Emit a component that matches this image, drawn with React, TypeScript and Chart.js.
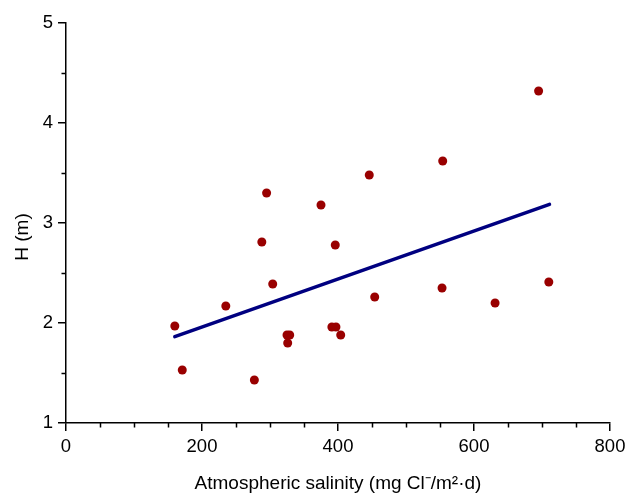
import React, { useEffect, useRef } from "react";
import { Chart, registerables } from "chart.js";

Chart.register(...registerables);

const salinity = [160, 171, 235, 277, 288, 295, 304, 325, 329, 326, 375, 391, 397, 396, 404, 446, 454, 554, 553, 631, 695, 710];
const heights = [1.97, 1.53, 2.17, 1.43, 2.81, 3.3, 2.39, 1.88, 1.88, 1.8, 3.18, 1.96, 1.96, 2.78, 1.88, 3.48, 2.26, 3.62, 2.35, 2.2, 4.32, 2.41];
const fitX = [160, 711];
const fitY = [1.863, 3.187];
const xMajorTicks = [0, 200, 400, 600, 800];
const yMajorTicks = [1, 2, 3, 4, 5];
const xMinorTicks = [50, 100, 150, 250, 300, 350, 450, 500, 550, 650, 700, 750];
const yMinorTicks = [1.5, 2.5, 3.5, 4.5];
const xTitle = "Atmospheric salinity (mg Cl\u207B/m\u00B2\u00B7d)";
const yTitle = "H (m)";

const FONT = "'Liberation Sans', Arial, sans-serif";

export default function App() {
  const ref = useRef<HTMLCanvasElement>(null);
  useEffect(() => {
    if (!ref.current) return;
    const extras = {
      id: "extras",
      afterDraw(chart: any) {
        const ctx = chart.ctx;
        const xs = chart.scales.x;
        const ys = chart.scales.y;
        const area = chart.chartArea;
        ctx.save();
        ctx.strokeStyle = "#000";
        ctx.lineWidth = 1.5;
        ctx.beginPath();
        for (const v of xMinorTicks) {
          const px = Math.round(xs.getPixelForValue(v)) + 0.5;
          ctx.moveTo(px, area.bottom);
          ctx.lineTo(px, area.bottom + 4.5);
        }
        for (const v of yMinorTicks) {
          const py = Math.round(ys.getPixelForValue(v)) + 0.5;
          ctx.moveTo(area.left, py);
          ctx.lineTo(area.left - 4.5, py);
        }
        ctx.stroke();
        ctx.fillStyle = "#000";
        ctx.font = `19px ${FONT}`;
        ctx.textAlign = "center";
        ctx.textBaseline = "alphabetic";
        ctx.fillText(xTitle, (area.left + area.right) / 2, 489);
        ctx.translate(28, 237);
        ctx.rotate(-Math.PI / 2);
        ctx.fillText(yTitle, 0, 0);
        ctx.restore();
      },
    };
    const chart = new Chart(ref.current, {
      type: "scatter",
      data: {
        datasets: [
          {
            type: "line",
            data: fitX.map((x, i) => ({ x, y: fitY[i] })),
            borderColor: "#000080",
            borderWidth: 3.5,
            pointRadius: 0,
            borderCapStyle: "round",
            order: 2,
          },
          {
            data: salinity.map((x, i) => ({ x, y: heights[i] })),
            backgroundColor: "#990000",
            borderColor: "#990000",
            borderWidth: 0,
            pointRadius: 4.5,
            order: 1,
          },
        ],
      },
      plugins: [extras],
      options: {
        responsive: false,
        animation: false,
        events: [],
        layout: { padding: { top: 23, right: 17, left: 0, bottom: 0 } },
        plugins: { legend: { display: false }, tooltip: { enabled: false } },
        scales: {
          x: {
            type: "linear",
            min: 0,
            max: 800,
            afterBuildTicks: (s: any) => {
              s.ticks = xMajorTicks.map((v) => ({ value: v }));
            },
            afterFit: (s: any) => {
              s.height = 71;
              s.paddingLeft = 0;
              s.paddingRight = 0;
            },
            grid: { drawOnChartArea: false, tickLength: 8, color: "#000", lineWidth: 1.5 },
            border: { color: "#000", width: 1.5 },
            ticks: { color: "#000", font: { family: FONT, size: 18.5 }, padding: 5, maxRotation: 0 },
          },
          y: {
            type: "linear",
            min: 1,
            max: 5,
            afterBuildTicks: (s: any) => {
              s.ticks = yMajorTicks.map((v) => ({ value: v }));
            },
            afterFit: (s: any) => {
              s.width = 66;
              s.paddingTop = 0;
              s.paddingBottom = 0;
            },
            grid: { drawOnChartArea: false, tickLength: 8, color: "#000", lineWidth: 1.5 },
            border: { color: "#000", width: 1.5 },
            ticks: { color: "#000", font: { family: FONT, size: 18.5 }, padding: 5 },
          },
        },
      },
    } as any);
    return () => chart.destroy();
  }, []);
  return (
    <div style={{ position: "absolute", left: 0, top: 0, width: 627, height: 494 }}>
      <canvas ref={ref} width={627} height={494} style={{ width: 627, height: 494 }} />
    </div>
  );
}
